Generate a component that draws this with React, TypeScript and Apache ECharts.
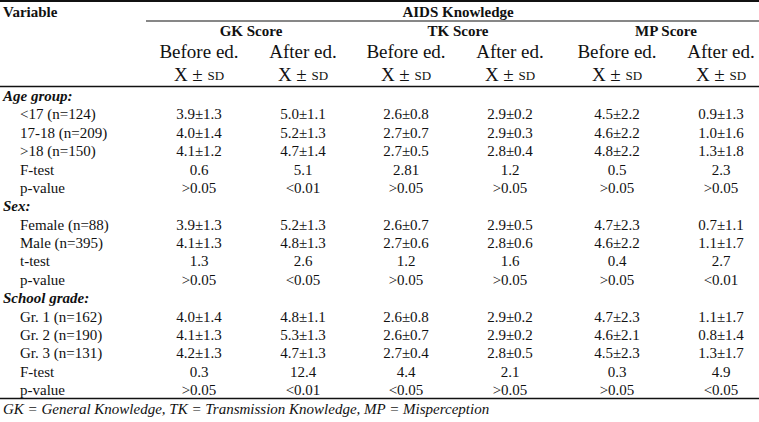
import React, { useEffect, useRef } from "react";
import * as echarts from "echarts";

const groupHeaders = ["GK Score", "TK Score", "MP Score"];
const phaseHeaders = ["Before ed.", "After ed."];

const ageGroupLabels = ["<17 (n=124)", "17-18 (n=209)", ">18 (n=150)", "F-test", "p-value"];
const ageGroupValues = [
  ["3.9±1.3", "5.0±1.1", "2.6±0.8", "2.9±0.2", "4.5±2.2", "0.9±1.3"],
  ["4.0±1.4", "5.2±1.3", "2.7±0.7", "2.9±0.3", "4.6±2.2", "1.0±1.6"],
  ["4.1±1.2", "4.7±1.4", "2.7±0.5", "2.8±0.4", "4.8±2.2", "1.3±1.8"],
  ["0.6", "5.1", "2.81", "1.2", "0.5", "2.3"],
  [">0.05", "<0.01", ">0.05", ">0.05", ">0.05", ">0.05"],
];

const sexLabels = ["Female (n=88)", "Male (n=395)", "t-test", "p-value"];
const sexValues = [
  ["3.9±1.3", "5.2±1.3", "2.6±0.7", "2.9±0.5", "4.7±2.3", "0.7±1.1"],
  ["4.1±1.3", "4.8±1.3", "2.7±0.6", "2.8±0.6", "4.6±2.2", "1.1±1.7"],
  ["1.3", "2.6", "1.2", "1.6", "0.4", "2.7"],
  [">0.05", "<0.05", ">0.05", ">0.05", ">0.05", "<0.01"],
];

const gradeLabels = ["Gr. 1 (n=162)", "Gr. 2 (n=190)", "Gr. 3 (n=131)", "F-test", "p-value"];
const gradeValues = [
  ["4.0±1.4", "4.8±1.1", "2.6±0.8", "2.9±0.2", "4.7±2.3", "1.1±1.7"],
  ["4.1±1.3", "5.3±1.3", "2.6±0.7", "2.9±0.2", "4.6±2.1", "0.8±1.4"],
  ["4.2±1.3", "4.7±1.3", "2.7±0.4", "2.8±0.5", "4.5±2.3", "1.3±1.7"],
  ["0.3", "12.4", "4.4", "2.1", "0.3", "4.9"],
  [">0.05", "<0.01", "<0.05", ">0.05", ">0.05", "<0.05"],
];

const sections = [
  { title: "Age group:", labels: ageGroupLabels, values: ageGroupValues },
  { title: "Sex:", labels: sexLabels, values: sexValues },
  { title: "School grade:", labels: gradeLabels, values: gradeValues },
];

const footnote = "GK = General Knowledge, TK = Transmission Knowledge, MP = Misperception";

const FONT = "'Liberation Serif', 'Times New Roman', serif";
const INK = "#111";

export default function App() {
  const ref = useRef<HTMLDivElement>(null);
  useEffect(() => {
    if (!ref.current) return;
    const chart = echarts.init(ref.current, null, { renderer: "svg" });
    const colX = [199, 303, 406, 510, 617, 721];
    const rowStart = 96;
    const rowStep = 18.375;
    const els: any[] = [];
    const txt = (text: string, x: number, y: number, font: string, align = "center", extra: any = {}) => {
      els.push({
        type: "text",
        x,
        y,
        style: {
          text,
          font,
          fill: INK,
          textAlign: align,
          textVerticalAlign: "middle",
          align,
          verticalAlign: "middle",
          ...extra,
        },
      });
    };
    const line = (x1: number, y1: number, x2: number, y2: number, w: number) => {
      els.push({ type: "line", shape: { x1, y1, x2, y2 }, style: { stroke: INK, lineWidth: w } });
    };
    // rules
    line(0, 1, 759, 1, 2);
    line(146, 21, 759, 21, 1.2);
    line(0, 86.5, 759, 86.5, 1.6);
    line(0, 398.5, 759, 398.5, 1.6);
    // header
    txt("Variable", 3, 12, `bold 15px ${FONT}`, "left");
    txt("AIDS Knowledge", 458, 12, `bold 15px ${FONT}`);
    groupHeaders.forEach((g, i) => {
      const cx = (colX[i * 2] + colX[i * 2 + 1]) / 2;
      txt(g, cx + (i === 2 ? -3 : 0), 31, `bold 15px ${FONT}`);
      phaseHeaders.forEach((p, j) => {
        const x = colX[i * 2 + j];
        txt(p, x, 51, `19px ${FONT}`);
        txt("{a|X ±} {b|SD}", x, 74, `19px ${FONT}`, "center", {
          rich: {
            a: { font: `19px ${FONT}`, fill: INK },
            b: { font: `13px ${FONT}`, fill: INK, padding: [3, 0, 0, 0] },
          },
        });
      });
    });
    // body
    let r = 0;
    sections.forEach((s) => {
      txt(s.title, 3, rowStart + r * rowStep, `italic bold 15px ${FONT}`, "left");
      r++;
      s.labels.forEach((lab, i) => {
        const y = rowStart + r * rowStep;
        txt(lab, 20, y, `15px ${FONT}`, "left");
        s.values[i].forEach((v, c) => txt(v, colX[c], y, `15px ${FONT}`));
        r++;
      });
    });
    txt(footnote, 3, 409, `italic 15px ${FONT}`, "left");
    chart.setOption({ animation: false, backgroundColor: "#fff", graphic: { elements: els } });
    return () => chart.dispose();
  }, []);
  return (
    <div
      ref={ref}
      style={{ position: "absolute", left: 0, top: 0, width: 759, height: 422, background: "#fff" }}
    />
  );
}
